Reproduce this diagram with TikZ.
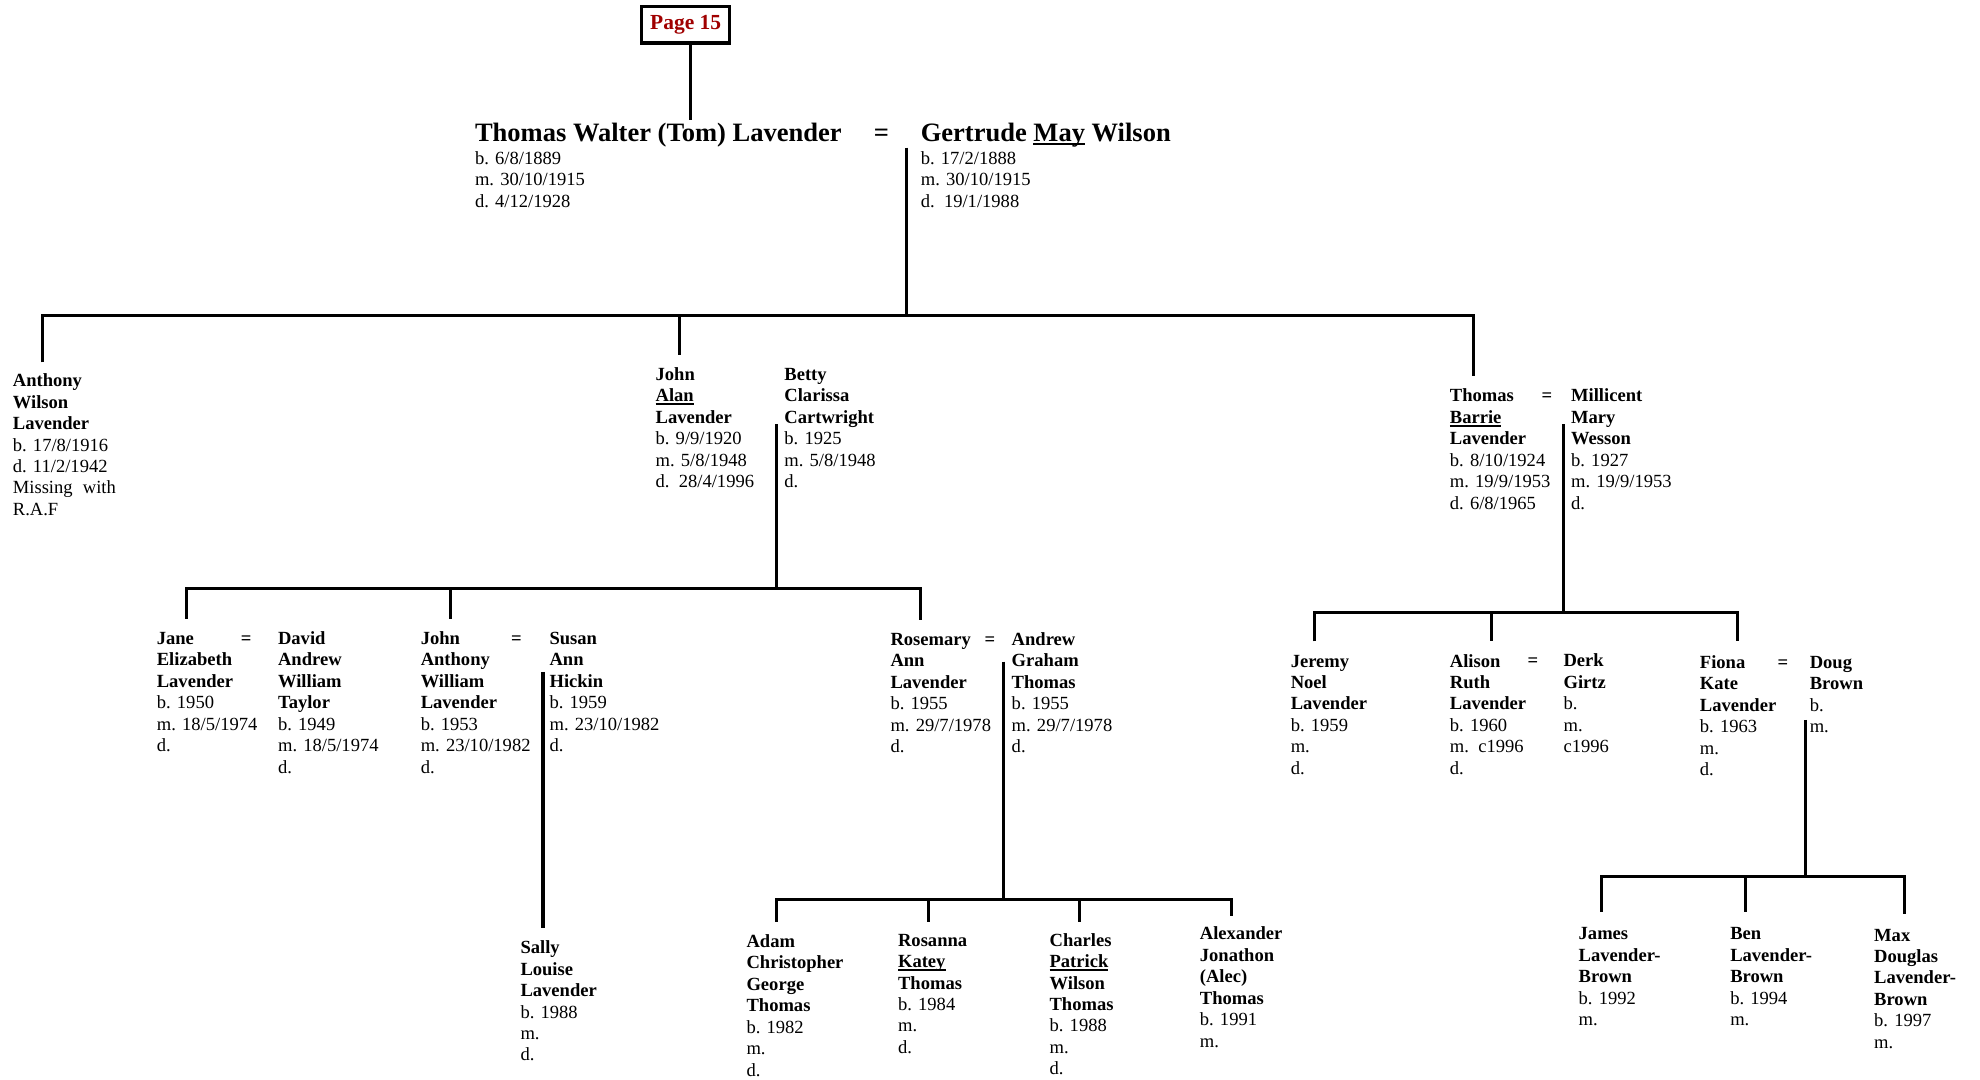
\documentclass[tikz,border=0pt]{standalone}
\usepackage{fontspec}
\setmainfont{Liberation Serif}
\definecolor{pagered}{RGB}{160,0,0}
\newcommand\strt{\rule{0pt}{12pt}}
\newsavebox\ulbox
\newcommand\uln[2][1.3pt]{\sbox\ulbox{#2}\rlap{\rule[-2.6pt]{\wd\ulbox}{#1}}\usebox\ulbox}
\begin{document}
\begin{tikzpicture}[x=1pt,y=-1pt,
  pb/.style={anchor=north west, inner sep=0pt, align=left, font=\fontsize{14.7}{17}\selectfont},
  eqs/.style={anchor=base, inner sep=0pt, font=\fontsize{14.7}{17}\selectfont\bfseries},
  title/.style={anchor=base west, inner sep=0pt, font=\fontsize{21}{25}\selectfont\bfseries},
  tree/.style={line width=2.4pt, line join=miter}]
\useasboundingbox (0,0) rectangle (1568,854.5);

% page box
\node[draw, line width=2.5pt, minimum width=70pt, minimum height=29pt, inner sep=0pt,
      text=pagered, font=\fontsize{17}{20}\selectfont\bfseries] (page) at (543,19.5) {Page 15};

% top couple
\node[title] (tom) at (376,112) {Thomas Walter (Tom) Lavender};
\node[anchor=base, inner sep=0pt, font=\fontsize{21}{25}\selectfont\bfseries] (eq0) at (698,112) {=};
\node[title] (gert) at (729,112) {Gertrude \uln[1.6pt]{May} Wilson};
\node[pb] (tomd) at (376,118) {\strt b. 6/8/1889\\m. 30/10/1915\\d. 4/12/1928};
\node[pb] (gertd) at (729,118) {\strt b. 17/2/1888\\m. 30/10/1915\\d.\ \ 19/1/1988};

% generation 1
\node[pb] (anthony) at (10,294) {\strt\textbf{Anthony}\\\textbf{Wilson}\\\textbf{Lavender}\\b. 17/8/1916\\d. 11/2/1942\\Missing\hspace{0.55em}with\\R.A.F};
\node[pb] (alan) at (519,289) {\strt\textbf{John}\\\textbf{\uln{Alan}}\\\textbf{Lavender}\\b. 9/9/1920\\m. 5/8/1948\\d.\ \ 28/4/1996};
\node[pb] (betty) at (621,289) {\strt\textbf{Betty}\\\textbf{Clarissa}\\\textbf{Cartwright}\\b. 1925\\m. 5/8/1948\\d.};
\node[pb] (barrie) at (1148,306) {\strt\textbf{Thomas}\\\textbf{\uln{Barrie}}\\\textbf{Lavender}\\b. 8/10/1924\\m. 19/9/1953\\d. 6/8/1965};
\node[eqs] (eq1) at (1225,318) {=};
\node[pb] (millicent) at (1244,306) {\strt\textbf{Millicent}\\\textbf{Mary}\\\textbf{Wesson}\\b. 1927\\m. 19/9/1953\\d.};

% generation 2 (Alan's children)
\node[pb] (jane) at (124,498) {\strt\textbf{Jane}\\\textbf{Elizabeth}\\\textbf{Lavender}\\b. 1950\\m. 18/5/1974\\d.};
\node[eqs] (eq2) at (195,510) {=};
\node[pb] (david) at (220,498) {\strt\textbf{David}\\\textbf{Andrew}\\\textbf{William}\\\textbf{Taylor}\\b. 1949\\m. 18/5/1974\\d.};
\node[pb] (janthony) at (333,498) {\strt\textbf{John}\\\textbf{Anthony}\\\textbf{William}\\\textbf{Lavender}\\b. 1953\\m. 23/10/1982\\d.};
\node[eqs] (eq3) at (409,510) {=};
\node[pb] (susan) at (435,498) {\strt\textbf{Susan}\\\textbf{Ann}\\\textbf{Hickin}\\b. 1959\\m. 23/10/1982\\d.};
\node[pb] (rosemary) at (705,499) {\strt\textbf{Rosemary}\\\textbf{Ann}\\\textbf{Lavender}\\b. 1955\\m. 29/7/1978\\d.};
\node[eqs] (eq4) at (784,511) {=};
\node[pb] (andrew) at (801,499) {\strt\textbf{Andrew}\\\textbf{Graham}\\\textbf{Thomas}\\b. 1955\\m. 29/7/1978\\d.};

% generation 2 (Barrie's children)
\node[pb] (jeremy) at (1022,516) {\strt\textbf{Jeremy}\\\textbf{Noel}\\\textbf{Lavender}\\b. 1959\\m.\\d.};
\node[pb] (alison) at (1148,516) {\strt\textbf{Alison}\\\textbf{Ruth}\\\textbf{Lavender}\\b. 1960\\m.\ \ c1996\\d.};
\node[eqs] (eq5) at (1214,528) {=};
\node[pb] (derk) at (1238,516) {\strt\textbf{Derk}\\\textbf{Girtz}\\b.\\m.\\c1996};
\node[pb] (fiona) at (1346,517) {\strt\textbf{Fiona}\\\textbf{Kate}\\\textbf{Lavender}\\b. 1963\\m.\\d.};
\node[eqs] (eq6) at (1412,529) {=};
\node[pb] (doug) at (1433,517) {\strt\textbf{Doug}\\\textbf{Brown}\\b.\\m.};

% generation 3
\node[pb] (sally) at (412,743) {\strt\textbf{Sally}\\\textbf{Louise}\\\textbf{Lavender}\\b. 1988\\m.\\d.};
\node[pb] (adam) at (591,738) {\strt\textbf{Adam}\\\textbf{Christopher}\\\textbf{George}\\\textbf{Thomas}\\b. 1982\\m.\\d.};
\node[pb] (rosanna) at (711,737) {\strt\textbf{Rosanna}\\\textbf{\uln{Katey}}\\\textbf{Thomas}\\b. 1984\\m.\\d.};
\node[pb] (charles) at (831,737) {\strt\textbf{Charles}\\\textbf{\uln{Patrick}}\\\textbf{Wilson}\\\textbf{Thomas}\\b. 1988\\m.\\d.};
\node[pb] (alexander) at (950,732) {\strt\textbf{Alexander}\\\textbf{Jonathon}\\\textbf{(Alec)}\\\textbf{Thomas}\\b. 1991\\m.};
\node[pb] (james) at (1250,732) {\strt\textbf{James}\\\textbf{Lavender-}\\\textbf{Brown}\\b. 1992\\m.};
\node[pb] (ben) at (1370,732) {\strt\textbf{Ben}\\\textbf{Lavender-}\\\textbf{Brown}\\b. 1994\\m.};
\node[pb] (max) at (1484,733) {\strt\textbf{Max}\\\textbf{Douglas}\\\textbf{Lavender-}\\\textbf{Brown}\\b. 1997\\m.};

% connector coordinates
\coordinate (tomtop) at (547,95);
\coordinate (c0t) at (718,117);
\coordinate (c0b) at (718,250);
\coordinate (anthonytop) at (34,287);
\coordinate (bar1L) at (34,250);
\coordinate (bar1R) at (1167,250);
\coordinate (barrietop) at (1167,298);
\coordinate (alanbar) at (538,250);
\coordinate (alantop) at (538,281);

\coordinate (c1t) at (615,336);
\coordinate (c1b) at (615,466);
\coordinate (bar2L) at (148,466);
\coordinate (bar2R) at (729,466);
\coordinate (janetop) at (148,490);
\coordinate (jabar) at (357,466);
\coordinate (jatop) at (357,490);
\coordinate (rosetop) at (729,491);

\coordinate (c2t) at (1238,336);
\coordinate (c2b) at (1238,485);
\coordinate (bar3L) at (1041,485);
\coordinate (bar3R) at (1376,485);
\coordinate (jeremytop) at (1041,508);
\coordinate (alibar) at (1181,485);
\coordinate (alitop) at (1181,508);
\coordinate (fionatop) at (1376,508);

\coordinate (c3t) at (430,532);
\coordinate (sallytop) at (430,735);

\coordinate (c4t) at (795,524);
\coordinate (c4b) at (795,712);
\coordinate (bar4L) at (615,712);
\coordinate (bar4R) at (975,712);
\coordinate (adamtop) at (615,730);
\coordinate (rosbar) at (735,712);
\coordinate (rostop) at (735,730);
\coordinate (chbar) at (855,712);
\coordinate (chtop) at (855,730);
\coordinate (alextop) at (975,725);

\coordinate (c5t) at (1430,570);
\coordinate (c5b) at (1430,694);
\coordinate (bar5L) at (1268,694);
\coordinate (bar5R) at (1508,694);
\coordinate (jamestop) at (1268,722);
\coordinate (benbar) at (1382,694);
\coordinate (bentop) at (1382,722);
\coordinate (maxtop) at (1508,724);

% connectors
\draw[tree] (page.south -| tomtop) -- (tomtop);
\draw[tree] (c0t) -- (c0b);
\draw[tree] (anthonytop) -- (bar1L) -- (bar1R) -- (barrietop);
\draw[tree] (alanbar) -- (alantop);

\draw[tree] (c1t) -- (c1b);
\draw[tree] (janetop) -- (bar2L) -- (bar2R) -- (rosetop);
\draw[tree] (jabar) -- (jatop);

\draw[tree] (c2t) -- (c2b);
\draw[tree] (jeremytop) -- (bar3L) -- (bar3R) -- (fionatop);
\draw[tree] (alibar) -- (alitop);

\draw[tree] (c3t) -- (sallytop);

\draw[tree] (c4t) -- (c4b);
\draw[tree] (adamtop) -- (bar4L) -- (bar4R) -- (alextop);
\draw[tree] (rosbar) -- (rostop);
\draw[tree] (chbar) -- (chtop);

\draw[tree] (c5t) -- (c5b);
\draw[tree] (jamestop) -- (bar5L) -- (bar5R) -- (maxtop);
\draw[tree] (benbar) -- (bentop);
\end{tikzpicture}
\end{document}
